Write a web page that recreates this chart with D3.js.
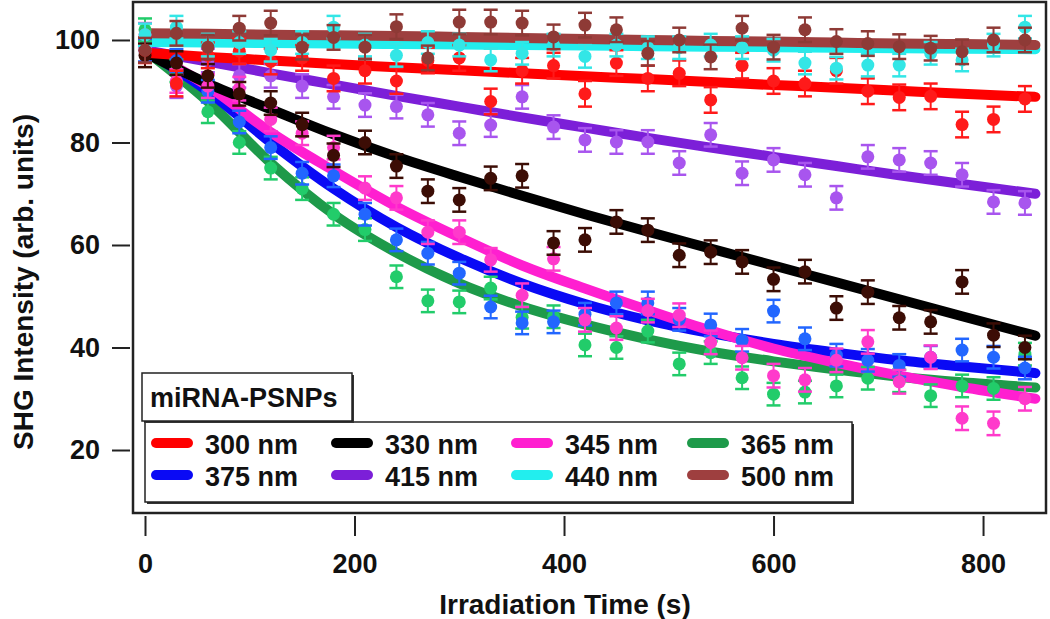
<!DOCTYPE html>
<html>
<head>
<meta charset="utf-8">
<script src="https://cdn.jsdelivr.net/npm/d3@7"></script>
<style>
  body { margin: 0; background: #fff; }
  text { font-family: "Liberation Sans", Arial, sans-serif; font-weight: bold; fill: #111; }
</style>
</head>
<body>
<div id="chart"></div>
<script>
// sample times (s)
var times = [0, 30, 60, 90, 120, 150, 180, 210, 240, 270, 300, 330, 360, 390, 420,
             450, 480, 510, 540, 570, 600, 630, 660, 690, 720, 750, 780, 810, 840];
var fitTimes = [0, 60, 120, 180, 240, 300, 360, 420, 480, 540, 600, 660, 720, 780, 850];

var labels = ["300 nm", "330 nm", "345 nm", "365 nm", "375 nm", "415 nm", "440 nm", "500 nm"];

// measured SHG intensity, one list per wavelength
var d300 = [98, 91.5, 97, 97.8, 95.8, 96.5, 92.5, 94, 92, 96, 96.5, 88, 94, 95, 89.5,
            95.5, 92.5, 93.5, 88.3, 95, 92, 91.5, 94, 90, 88.8, 89, 83.5, 84.5, 88.5];
var d330 = [97, 95.5, 93, 89.5, 87.7, 83.5, 77.5, 80, 75.4, 70.5, 68.8, 73, 73.5, 60.4, 61,
            64.5, 62.9, 58, 58.6, 56.7, 53.3, 54.8, 47.7, 50.8, 45.8, 45, 52.8, 42.4, 40];
var d345 = [101, 92, 91, 90.5, 84.5, 81.8, 79, 71.1, 69.2, 62.5, 62.5, 57.1, 50.2, 57.3, 45.4,
            43.8, 47.2, 46.3, 41, 38, 34.5, 33.7, 37.5, 41.1, 33.3, 38.1, 26.2, 25.2, 30];
var d365 = [102, 94, 86, 80, 75, 71, 66, 63, 53.8, 49.1, 48.9, 51.6, 45.9, 46, 40.5,
            40, 43.2, 36.8, 39, 34.1, 30.9, 31.3, 32.5, 34, 33.5, 30.6, 32.5, 32, 38.7];
var d375 = [98, 96, 90, 84, 79, 74, 73.5, 66, 61, 58.4, 54.5, 47.9, 44.8, 45, 46.5,
            48.7, 48.7, 45.5, 44.4, 41.4, 47.1, 41.7, 38.5, 37.5, 36.5, 38.1, 39.5, 38.1, 36];
var d415 = [98, 91, 96, 93, 93, 91, 88.9, 87.3, 87, 85.4, 81.8, 83.4, 88.9, 83, 80.5,
            80.1, 80.1, 76, 81.5, 74, 76.6, 73.7, 69.2, 77.2, 76.6, 76, 73.7, 68.4, 68.2];
var d440 = [101, 102.5, 99, 99.5, 98, 99.5, 102.5, 99, 97, 99.5, 99, 96.1, 97.4, 99, 96.8,
            99, 98.5, 98.5, 99, 98.5, 98, 95.5, 94.5, 95.1, 95.1, 97.4, 96.1, 99, 102.5];
var d500 = [98, 101.3, 98.6, 102.3, 103.3, 98.6, 100.5, 98.6, 102.6, 96.5, 103.5, 103.5, 103.3, 100.6, 102.9,
            102, 97.4, 100, 96.7, 102.3, 98.6, 102, 99.7, 99.3, 98.7, 98.4, 97.7, 100, 100];

// fitted curves
var f300 = [97.5, 96.7, 96.0, 95.3, 94.7, 94.1, 93.5, 92.9, 92.4, 91.8, 91.2, 90.7, 90.1, 89.5, 88.9];
var f330 = [97.5, 91.5, 86.5, 81.6, 77.2, 73.3, 69.6, 66.0, 62.6, 59.3, 56.0, 52.7, 49.4, 46.1, 42.3];
var f345 = [98, 91, 82, 74.5, 67.5, 61.5, 56, 51.5, 47.3, 43.3, 39.8, 37, 34.5, 32.3, 30];
var f365 = [98, 88, 76, 66, 58.5, 52.5, 48, 44.5, 41.6, 39.2, 37.3, 35.7, 34.3, 33.2, 32.2];
var f375 = [98, 90, 80, 71, 63.5, 57.5, 52.5, 48.5, 45.3, 42.8, 40.7, 39, 37.5, 36.3, 35];
var f415 = [98, 95.8, 93.5, 91.3, 89.1, 87, 84.9, 82.9, 80.9, 79, 77.2, 75.4, 73.6, 71.9, 70];
var f440 = [99.6, 99.5, 99.4, 99.3, 99.2, 99.1, 99, 98.9, 98.8, 98.7, 98.6, 98.5, 98.4, 98.3, 98.2];
var f500 = [101.3, 101.2, 101.0, 100.9, 100.8, 100.6, 100.4, 100.2, 100.0, 99.8, 99.7, 99.5, 99.3, 99.2, 99.0];

// error bar half widths per wavelength
var errs = [2.5, 2.3, 2.3, 2.2, 2.2, 2.3, 2.2, 2.4];

var xTicks = [0, 200, 400, 600, 800];
var yTicks = [20, 40, 60, 80, 100];

var lineColors  = ["#ff0000", "#000000", "#ff1fd0", "#1e9a4a", "#0a0af5", "#7c1fd8", "#22eeee", "#9e3f3f"];
var pointColors = ["#ff1a1a", "#3c0d05", "#ff3acb", "#22cc6a", "#2266ff", "#a855ee", "#33e6e6", "#8e3a36"];

var dataSets = [d300, d330, d345, d365, d375, d415, d440, d500];
var fitSets  = [f300, f330, f345, f365, f375, f415, f440, f500];

var width = 1050, height = 619;
var plotLeft = 133, plotRight = 1046, plotTop = 2, plotBottom = 513;

var x = d3.scaleLinear().domain([-11.46, 860.1]).range([plotLeft, plotRight]);
var y = d3.scaleLinear().domain([7.71, 107.41]).range([plotBottom, plotTop]);

var svg = d3.select("#chart").append("svg")
    .attr("width", width)
    .attr("height", height);

svg.append("clipPath").attr("id", "plotclip")
    .append("rect")
    .attr("x", plotLeft).attr("y", plotTop)
    .attr("width", plotRight - plotLeft).attr("height", plotBottom - plotTop);

var plot = svg.append("g").attr("clip-path", "url(#plotclip)");

// fit curves (drawn in Igor-like order so brown ends up on top)
var drawOrder = [5, 3, 4, 2, 1, 0, 6, 7];
var line = d3.line()
    .x(function (d) { return x(d[0]); })
    .y(function (d) { return y(d[1]); })
    .curve(d3.curveMonotoneX);

drawOrder.forEach(function (k) {
    var pts = fitTimes.map(function (t, i) { return [t, fitSets[k][i]]; });
    plot.append("path")
        .attr("d", line(pts))
        .attr("fill", "none")
        .attr("stroke", lineColors[k])
        .attr("stroke-width", 10)
        .attr("stroke-linecap", "round")
        .attr("stroke-linejoin", "round");
});

// points with error bars
var capHalf = 7;
drawOrder.forEach(function (k) {
    var g = plot.append("g")
        .attr("stroke", pointColors[k])
        .attr("fill", pointColors[k]);
    var e = errs[k];
    var pts = g.selectAll("g.pt")
        .data(times.map(function (t, i) { return [t, dataSets[k][i]]; }))
        .enter().append("g").attr("class", "pt");
    pts.append("line")
        .attr("x1", function (d) { return x(d[0]); })
        .attr("x2", function (d) { return x(d[0]); })
        .attr("y1", function (d) { return y(d[1] + e); })
        .attr("y2", function (d) { return y(d[1] - e); })
        .attr("stroke-width", 2);
    pts.append("line")
        .attr("x1", function (d) { return x(d[0]) - capHalf; })
        .attr("x2", function (d) { return x(d[0]) + capHalf; })
        .attr("y1", function (d) { return y(d[1] + e); })
        .attr("y2", function (d) { return y(d[1] + e); })
        .attr("stroke-width", 2.5);
    pts.append("line")
        .attr("x1", function (d) { return x(d[0]) - capHalf; })
        .attr("x2", function (d) { return x(d[0]) + capHalf; })
        .attr("y1", function (d) { return y(d[1] - e); })
        .attr("y2", function (d) { return y(d[1] - e); })
        .attr("stroke-width", 2.5);
    pts.append("circle")
        .attr("cx", function (d) { return x(d[0]); })
        .attr("cy", function (d) { return y(d[1]); })
        .attr("r", 6.5)
        .attr("stroke", "none");
});

// frame
svg.append("rect")
    .attr("x", plotLeft).attr("y", plotTop)
    .attr("width", plotRight - plotLeft).attr("height", plotBottom - plotTop)
    .attr("fill", "none")
    .attr("stroke", "#222")
    .attr("stroke-width", 2.5);

// axes, ticks hang off the frame
var yAxis = svg.append("g")
    .attr("transform", "translate(130,0)")
    .call(d3.axisLeft(y).tickValues(yTicks).tickSize(18).tickPadding(12));
var xAxis = svg.append("g")
    .attr("transform", "translate(0,516)")
    .call(d3.axisBottom(x).tickValues(xTicks).tickSize(20).tickPadding(18));

[xAxis, yAxis].forEach(function (a) {
    a.select(".domain").remove();
    a.selectAll("line").attr("stroke", "#222").attr("stroke-width", 2);
    a.selectAll("text")
        .style("font-family", "'Liberation Sans', Arial, sans-serif")
        .style("font-weight", "bold")
        .style("font-size", "27px")
        .attr("fill", "#111");
});

svg.append("text")
    .attr("x", 565).attr("y", 614)
    .attr("text-anchor", "middle")
    .style("font-size", "28px")
    .text("Irradiation Time (s)");

svg.append("text")
    .attr("transform", "translate(33,282) rotate(-90)")
    .attr("text-anchor", "middle")
    .style("font-size", "28px")
    .text("SHG Intensity (arb. units)");

// legend
var legend = svg.append("g");
legend.append("rect")
    .attr("x", 147).attr("y", 424).attr("width", 707).attr("height", 80)
    .attr("fill", "#333");
legend.append("rect")
    .attr("x", 145).attr("y", 422).attr("width", 707).attr("height", 80)
    .attr("fill", "#fff").attr("stroke", "#222").attr("stroke-width", 1.5);

legend.append("rect")
    .attr("x", 144).attr("y", 375).attr("width", 210).attr("height", 48)
    .attr("fill", "#333");
legend.append("rect")
    .attr("x", 142).attr("y", 373).attr("width", 210).attr("height", 48)
    .attr("fill", "#fff").attr("stroke", "#222").attr("stroke-width", 1.5);
legend.append("text")
    .attr("x", 150).attr("y", 407)
    .style("font-size", "27px")
    .text("miRNA-PSNPs");

var colX = [152, 332, 512, 688];
var rowY = [443, 475];
var item = legend.selectAll(".item")
    .data(labels)
    .enter().append("g")
    .attr("class", "item")
    .attr("transform", function (d, i) {
        return "translate(" + colX[i % 4] + "," + rowY[Math.floor(i / 4)] + ")";
    });
item.append("line")
    .attr("x1", 4).attr("x2", 36)
    .attr("stroke", function (d, i) { return lineColors[i]; })
    .attr("stroke-width", 10)
    .attr("stroke-linecap", "round");
item.append("text")
    .attr("x", 53).attr("y", 11)
    .style("font-size", "27px")
    .text(function (d) { return d; });
</script>
</body>
</html>
